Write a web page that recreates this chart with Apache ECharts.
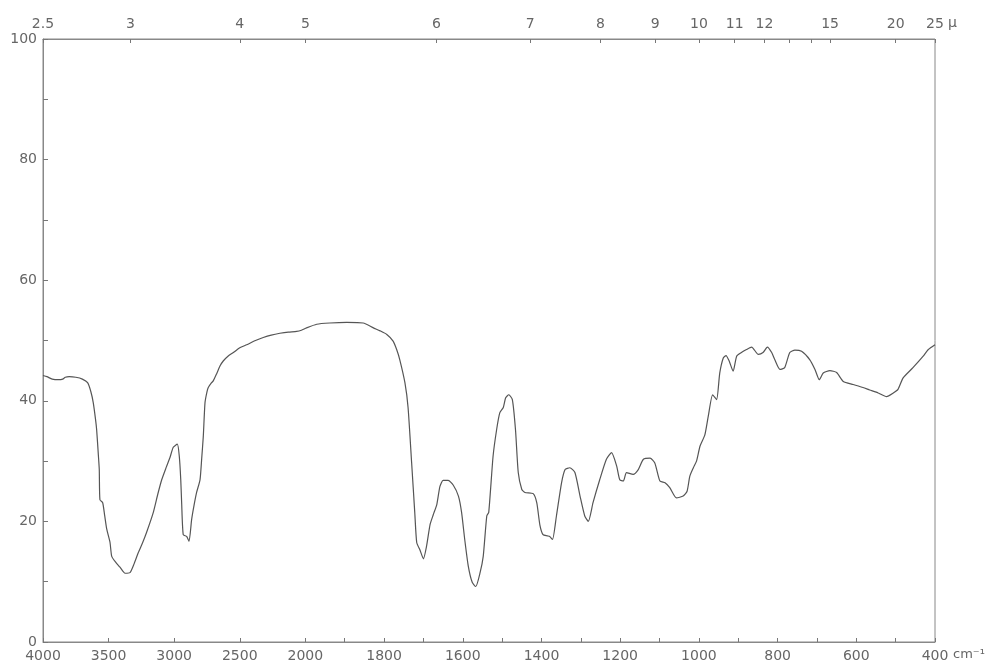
<!DOCTYPE html>
<html>
<head>
<meta charset="utf-8">
<title>IR spectrum</title>
<script src="https://cdn.jsdelivr.net/npm/echarts@6/dist/echarts.min.js"></script>
<style>
  html, body { margin: 0; padding: 0; background: #fff; }
  #chart { width: 987px; height: 664px; }
</style>
</head>
<body>
<div id="chart"></div>
<script>
// wavenumber (cm-1) and transmittance (%)
const wavenumbers = [
  4000, 3970, 3930, 3880, 3850, 3830, 3800, 3750, 3700, 3660, 3635, 3617, 3600, 3591, 3578, 3571,
  3566, 3545, 3530, 3514, 3489, 3476, 3445, 3413, 3390, 3375, 3337, 3305, 3274, 3240, 3210, 3159,
  3125, 3095, 3060, 3032, 3007, 2976, 2961, 2950, 2943, 2931, 2905, 2887, 2867, 2850, 2829, 2803,
  2790, 2778, 2765, 2750, 2740, 2715, 2702, 2676, 2650, 2626, 2590, 2549, 2500, 2447, 2380, 2321,
  2260, 2194, 2130, 2066, 2030, 1997, 1971, 1938, 1895, 1853, 1827, 1810, 1793, 1777, 1768, 1760,
  1747, 1739, 1730, 1722, 1717, 1709, 1700, 1692, 1683, 1675, 1666, 1658, 1650, 1637, 1624, 1611,
  1603, 1595, 1586, 1576, 1567, 1556, 1548, 1539, 1534, 1523, 1514, 1506, 1497, 1491, 1483, 1474,
  1466, 1459, 1450, 1442, 1421, 1412, 1404, 1396, 1385, 1379, 1372, 1362, 1349, 1340, 1328, 1315,
  1302, 1290, 1281, 1269, 1252, 1235, 1222, 1209, 1201, 1192, 1184, 1167, 1154, 1141, 1124, 1112,
  1099, 1086, 1074, 1057, 1040, 1030, 1023, 1014, 1006, 997, 985, 976, 965, 955, 947, 938,
  931, 923, 913, 904, 892, 879, 866, 849, 837, 826, 815, 807, 794, 782, 769, 756,
  739, 718, 705, 694, 684, 667, 650, 633, 608, 583, 566, 544, 523, 506, 494, 481,
  456, 430, 417, 400
]
const transmittance = [
  44.2, 44.0, 43.6, 43.5, 43.6, 43.9, 44.0, 43.9, 43.6, 43.0, 41.5, 39.7, 37.0, 35.2, 31.0, 28.6,
  23.6, 23.1, 21.0, 18.7, 16.5, 14.2, 13.2, 12.4, 11.7, 11.4, 11.5, 13.0, 14.8, 16.5, 18.2, 21.5,
  24.5, 26.9, 29.0, 30.6, 32.3, 32.8, 30.8, 27.0, 23.1, 17.8, 17.5, 16.7, 20.3, 22.5, 24.8, 26.9,
  30.5, 34.1, 39.7, 41.5, 42.2, 43.0, 43.3, 44.5, 45.8, 46.6, 47.4, 48.0, 48.8, 49.3, 50.0, 50.5,
  50.9, 51.2, 51.4, 51.5, 51.7, 52.1, 52.7, 52.9, 53.0, 52.9, 52.1, 51.6, 51.0, 49.9, 48.5, 46.8,
  43.0, 38.9, 29.8, 21.5, 16.5, 15.3, 13.8, 15.9, 19.5, 21.1, 22.8, 25.8, 26.8, 26.8, 26.0, 24.2,
  21.5, 17.0, 12.6, 9.9, 9.2, 11.5, 14.2, 20.9, 21.5, 30.8, 35.2, 38.0, 38.9, 40.5, 41.0, 40.2,
  35.2, 28.1, 25.3, 24.8, 24.6, 23.1, 19.4, 17.8, 17.6, 17.5, 17.0, 20.9, 26.4, 28.6, 28.9, 28.1,
  24.2, 20.9, 20.0, 23.1, 26.9, 30.3, 31.4, 29.2, 26.9, 26.7, 28.1, 27.8, 28.6, 30.3, 30.5, 29.7,
  26.7, 26.4, 25.6, 23.9, 24.2, 25.0, 27.5, 28.9, 30.0, 32.5, 34.3, 37.5, 41.0, 40.2, 44.6, 47.1,
  47.5, 46.6, 44.9, 47.4, 48.0, 48.5, 48.9, 47.7, 48.0, 48.9, 48.0, 46.8, 45.2, 45.5, 48.0, 48.4,
  48.2, 46.8, 45.2, 43.5, 44.6, 45.0, 44.7, 43.2, 42.7, 42.2, 41.8, 41.3, 40.7, 41.3, 41.9, 43.8,
  45.5, 47.4, 48.5, 49.3
]

// axis labels / ticks
const wnLabels = [4000, 3500, 3000, 2500, 2000, 1800, 1600, 1400, 1200, 1000, 800, 600, 400]
const wnTicks = [4000, 3500, 3000, 2500, 2000, 1900, 1800, 1700, 1600, 1500, 1400, 1300, 1200, 1100, 1000, 900, 800, 700, 600, 500, 400]
const micronLabels = [2.5, 3, 4, 5, 6, 7, 8, 9, 10, 11, 12, 15, 20, 25]
const micronTicks = [2.5, 3, 4, 5, 6, 7, 8, 9, 10, 11, 12, 13, 14, 15, 20, 25]

// chart paper changes scale at 2000 cm-1 (x3 expanded below it)
const toU = wn => (wn >= 2000 ? 4000 - wn : 2000 + (2000 - wn) * 3)
const fromU = u => (u <= 2000 ? 4000 - u : 2000 - (u - 2000) / 3)
const micronToU = m => toU(10000 / m)

const labelStyle = {
  color: '#666',
  fontSize: 14,
  fontFamily: 'DejaVu Sans'
}

const chart = echarts.init(document.getElementById('chart'))
const option = {
  animation: false,
  backgroundColor: '#fff',
  grid: {
    left: 43,
    right: 52,
    top: 39,
    bottom: 22,
    show: true,
    borderColor: '#888',
    borderWidth: 1,
    outerBoundsMode: 'none'
  },
  // unit marks after the last tick labels
  graphic: [
    {
      type: 'text',
      left: 948,
      top: 16,
      style: { text: 'µ', fill: '#666', font: '14px DejaVu Sans' }
    },
    {
      type: 'text',
      left: 953,
      top: 648,
      style: { text: 'cm⁻¹', fill: '#666', font: '13px DejaVu Sans' }
    }
  ],
  xAxis: [
    {
      type: 'value',
      position: 'bottom',
      min: 0,
      max: toU(400),
      axisLine: { show: true, lineStyle: { color: '#888' } },
      axisTick: {
        show: true,
        inside: true,
        length: 4,
        customValues: wnTicks.map(toU),
        lineStyle: { color: '#777' }
      },
      axisLabel: Object.assign({}, labelStyle, {
        margin: 7,
        customValues: wnLabels.map(toU),
        formatter: v => String(Math.round(fromU(v)))
      }),
      splitLine: { show: false }
    },
    {
      type: 'value',
      position: 'top',
      min: 0,
      max: toU(400),
      axisLine: { show: true, lineStyle: { color: '#888' } },
      axisTick: {
        show: true,
        inside: true,
        length: 4,
        customValues: micronTicks.map(micronToU),
        lineStyle: { color: '#777' }
      },
      axisLabel: Object.assign({}, labelStyle, {
        margin: 8,
        customValues: micronLabels.map(micronToU),
        formatter: v => String(Math.round(100000 / fromU(v)) / 10)
      }),
      splitLine: { show: false }
    }
  ],
  yAxis: {
    type: 'value',
    min: 0,
    max: 100,
    interval: 10,
    axisLine: { show: true, lineStyle: { color: '#888' } },
    axisTick: { show: true, inside: true, length: 5, lineStyle: { color: '#777' } },
    axisLabel: Object.assign({}, labelStyle, {
      margin: 6,
      formatter: v => (v % 20 === 0 ? String(v) : '')
    }),
    splitLine: { show: false }
  },
  series: [
    {
      type: 'line',
      xAxisIndex: 0,
      data: wavenumbers.map((w, i) => [toU(w), transmittance[i]]),
      showSymbol: false,
      smooth: 0.2,
      lineStyle: { color: '#555', width: 1.2 }
    }
  ]
}
chart.setOption(option)
</script>
</body>
</html>
